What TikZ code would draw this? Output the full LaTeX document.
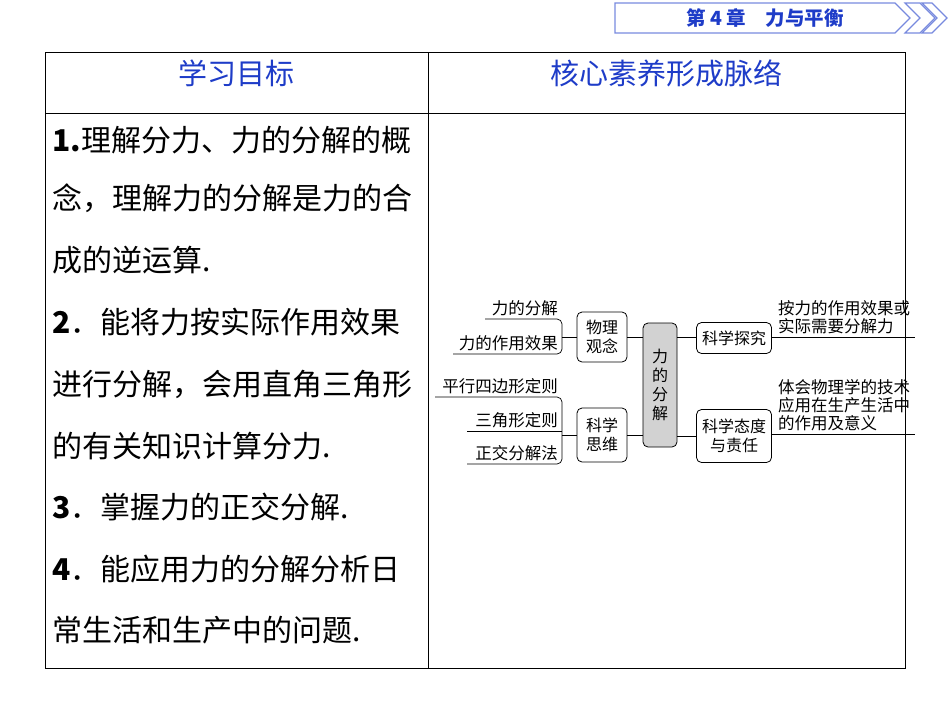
\documentclass[tikz,border=0pt]{standalone}
\usepackage{fontspec}
\setmainfont{Liberation Serif}
\newfontfamily\cjk{Noto Sans CJK SC}
\definecolor{hblue}{RGB}{30,60,200}
\definecolor{boxgray}{RGB}{210,210,210}
\begin{document}
\begin{tikzpicture}[x=1pt,y=-1pt,
  mbox/.style={draw,rounded corners=5pt,line width=0.8pt,align=center,inner sep=0pt,font=\cjk\fontsize{16}{19}\selectfont},
  mtxt/.style={font=\cjk\fontsize{16.5}{18}\selectfont,inner sep=1pt},
  ltxt/.style={font=\cjk\fontsize{30}{34}\selectfont,anchor=west,inner sep=0pt},
  ln/.style={line width=0.7pt}]
\useasboundingbox (0,0) rectangle (950,713);
% header
\draw[hblue!60,line width=1.2pt] (615,3) -- (895,3) -- (910,18) -- (895,33) -- (615,33) -- cycle;
\draw[hblue!60,line width=1.2pt] (905,3) -- (920,3) -- (935,18) -- (920,33) -- (905,33) -- (920,18) -- cycle;
\draw[hblue!60,line width=1.2pt] (922,3) -- (932,3) -- (947,18) -- (932,33) -- (922,33) -- (937,18) -- cycle;
\node[font=\cjk\bfseries\fontsize{19.5}{22}\selectfont,text=hblue] (hd) at (765,18) {第 4 章\quad 力与平衡};
% table
\draw[line width=0.8pt] (45,52) rectangle (905,668);
\draw[line width=0.8pt] (45,113) -- (905,113);
\draw[line width=0.8pt] (428,52) -- (428,668);
\node[font=\cjk\fontsize{29}{32}\selectfont,text=hblue] (h1) at (236,73) {学习目标};
\node[font=\cjk\fontsize{29}{32}\selectfont,text=hblue] (h2) at (666,73) {核心素养形成脉络};
\node[ltxt] (l1) at (52,140) {\textbf{1.}理解分力、力的分解的概};
\node[ltxt] (l2) at (52,198) {念，理解力的分解是力的合};
\node[ltxt] (l3) at (52,260) {成的逆运算.};
\node[ltxt] (l4) at (52,322) {\textbf{2}．能将力按实际作用效果};
\node[ltxt] (l5) at (52,384) {进行分解，会用直角三角形};
\node[ltxt] (l6) at (52,446) {的有关知识计算分力.};
\node[ltxt] (l7) at (52,507) {\textbf{3}．掌握力的正交分解.};
\node[ltxt] (l8) at (52,569) {\textbf{4}．能应用力的分解分析日};
\node[ltxt] (l9) at (52,630) {常生活和生产中的问题.};
% mind map
\node[mbox,fill=boxgray,minimum width=34pt,minimum height=124pt] (c) at (660,385) {力\\的\\分\\解};
\node[mbox,minimum width=50pt,minimum height=50pt] (wl) at (602,337) {物理\\观念};
\node[mbox,minimum width=50pt,minimum height=54pt] (kx) at (602,435) {科学\\思维};
\node[mbox,minimum width=75pt,minimum height=31pt] (tj) at (734,338) {科学探究};
\node[mbox,minimum width=75pt,minimum height=53pt] (td) at (734,436) {科学态度\\与责任};
\draw[ln] (wl.east |- 0,337) -- (c.west |- 0,337);
\draw[ln] (kx.east |- 0,435) -- (c.west |- 0,435);
\draw[ln] (c.east |- 0,337) -- (tj.west |- 0,337);
\draw[ln] (c.east |- 0,436) -- (td.west |- 0,436);
% right lines
\coordinate (r1) at (915,337);
\coordinate (r2) at (915,434);
\draw[ln] (tj.east |- 0,337) -- (r1);
\draw[ln] (td.east |- 0,434) -- (r2);
\node[mtxt,anchor=south west,align=left] (t1) at (777,335) {按力的作用效果或\\实际需要分解力};
\node[mtxt,anchor=south west,align=left] (t2) at (777,432) {体会物理学的技术\\应用在生产生活中\\的作用及意义};
% left bracket 1
\coordinate (b1) at (562,337);
\coordinate (a1) at (485,319);
\coordinate (a2) at (453,354);
\draw[ln] (wl.west |- 0,337) -- (b1);
\draw[ln,rounded corners=5pt] (a1) -- (562,319) -- (562,354) -- (a2);
\node[mtxt,anchor=south east] (p1) at (559,317) {力的分解};
\node[mtxt,anchor=south east] (p2) at (559,352) {力的作用效果};
% left bracket 2
\coordinate (b2) at (562,431);
\coordinate (c1) at (435,397);
\coordinate (c2) at (467,431);
\coordinate (c3) at (467,464);
\draw[ln] (kx.west |- 0,435) -- (b2 |- 0,435);
\draw[ln,rounded corners=5pt] (c1) -- (562,397) -- (562,464) -- (c3);
\draw[ln] (c2) -- (b2);
\node[mtxt,anchor=south east] (q1) at (559,395) {平行四边形定则};
\node[mtxt,anchor=south east] (q2) at (559,429) {三角形定则};
\node[mtxt,anchor=south east] (q3) at (559,462) {正交分解法};
\end{tikzpicture}
\end{document}
